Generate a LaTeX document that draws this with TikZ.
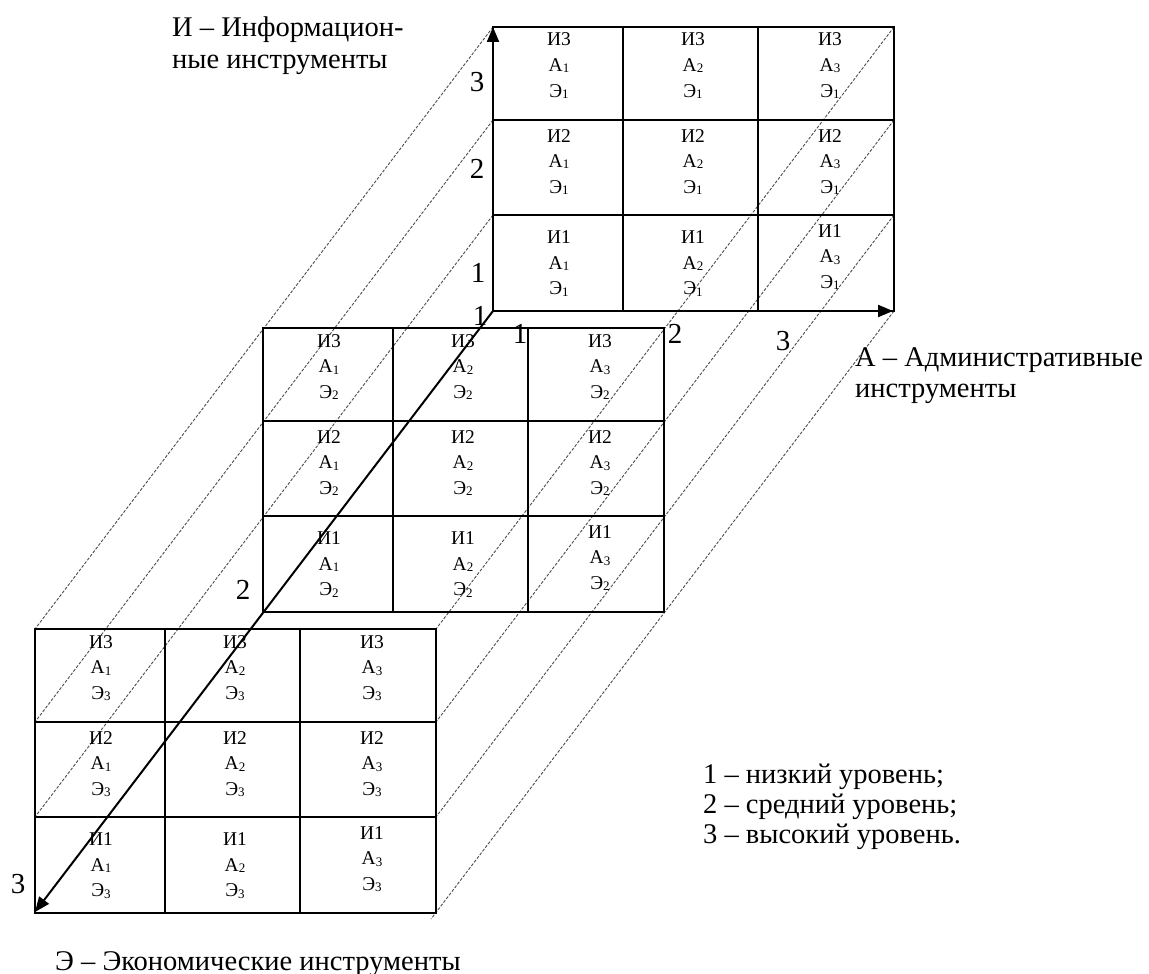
\documentclass[tikz,border=0pt]{standalone}
\usepackage{fontspec}
\setmainfont{Liberation Serif}
\usetikzlibrary{arrows.meta}
\newcommand\mysub[1]{\raisebox{-1.5pt}{\fontsize{13}{13}\selectfont #1}}
\newcommand\cellfont{\fontsize{19.5}{25}\selectfont}
\tikzset{
 gridline/.style={line width=1.8pt},
 axis/.style={line width=2pt, -{Triangle[length=15pt,width=12pt]}},
 guide/.style={line width=0.9pt, black!70, dash pattern=on 3pt off 1.6pt},
 ctext/.style={anchor=base, inner sep=0pt, font=\cellfont},
 lbl/.style={anchor=base west, inner sep=0pt, font=\fontsize{28.5}{32}\selectfont},
 num/.style={anchor=base, inner sep=0pt, font=\fontsize{29}{32}\selectfont},
}
% #1 grid name, #2 x, #3 first baseline y, #4 I index, #5 A index, #6 E index
\newcommand\cellt[6]{%
 \node[ctext] (#1i#4a#5) at (#2,#3) {И#4};
 \node[ctext] (#1i#4a#5A) at (#2,#3+25.5) {А\mysub{#5}};
 \node[ctext] (#1i#4a#5E) at (#2,#3+51) {Э\mysub{#6}};}
% #1 grid name, #2 shift, #3 E index
\newcommand\drawgrid[3]{%
 \begin{scope}[shift={#2}]
  \draw[gridline] (0,0) rectangle (401,284);
  \draw[gridline] (130,0) -- (130,284) (265,0) -- (265,284)
                  (0,93) -- (401,93) (0,188) -- (401,188);
  \foreach \cx/\cc in {66/1,200/2,337/3} {
    \cellt{#1}{\cx}{19}{3}{\cc}{#3}
    \cellt{#1}{\cx}{115}{2}{\cc}{#3}
  }
  \cellt{#1}{66}{216.5}{1}{1}{#3}
  \cellt{#1}{200}{216.5}{1}{2}{#3}
  \cellt{#1}{337}{210}{1}{3}{#3}
 \end{scope}}

\begin{document}
\begin{tikzpicture}[x=1pt,y=-1pt]
\useasboundingbox (0,0) rectangle (1149,974);

% key points
\coordinate (O) at (493,311);
\coordinate (Itop) at (493,27);
\coordinate (Aend) at (893,311);
\coordinate (Eend) at (35,912);

% dashed guide lines (top grid -> bottom grid)
\coordinate (L1) at (493,27);  \coordinate (L1b) at (35,629);
\coordinate (L2) at (493,120); \coordinate (L2b) at (35,722);
\coordinate (L3) at (493,215); \coordinate (L3b) at (35,817);
\coordinate (R1) at (894,27);  \coordinate (R1b) at (436,629);
\coordinate (R2) at (894,120); \coordinate (R2b) at (436,722);
\coordinate (R3) at (894,215); \coordinate (R3b) at (436,817);
\coordinate (R4) at (894,311); \coordinate (R4b) at (431,919);
\draw[guide] (L1) -- (L1b);
\draw[guide] (L2) -- (L2b);
\draw[guide] (L3) -- (L3b);
\draw[guide] (R1) -- (R1b);
\draw[guide] (R2) -- (R2b);
\draw[guide] (R3) -- (R3b);
\draw[guide] (R4) -- (R4b);

% the three grids
\drawgrid{t}{(493,27)}{1}
\drawgrid{m}{(263,328)}{2}
\drawgrid{b}{(35,629)}{3}

% axes
\draw[axis] (O) -- (Itop);
\draw[axis] (O) -- (Aend);
\draw[axis] (O) -- (Eend);

% axis level numbers
\node[num] (i3) at (477,92) {3};
\node[num] (i2) at (477,178) {2};
\node[num] (i1) at (478,282) {1};
\node[num] (e1) at (480,325) {1};
\node[num] (a1) at (520,343) {1};
\node[num] (a2) at (675,343) {2};
\node[num] (a3) at (783,350) {3};
\node[num] (e2) at (243,599) {2};
\node[num] (e3) at (18,893) {3};

% axis titles
\node[lbl] (it1) at (172,36.5) {И – Информацион-};
\node[lbl] (it2) at (172,68.5) {ные инструменты};
\node[lbl] (at1) at (855,366) {А – Административные};
\node[lbl] (at2) at (855,397) {инструменты};
\node[lbl] (et) at (55,970) {Э – Экономические инструменты};

% legend
\node[lbl] (lg1) at (703,783) {1 – низкий уровень;};
\node[lbl] (lg2) at (703,813) {2 – средний уровень;};
\node[lbl] (lg3) at (703,843) {3 – высокий уровень.};
\end{tikzpicture}
\end{document}
